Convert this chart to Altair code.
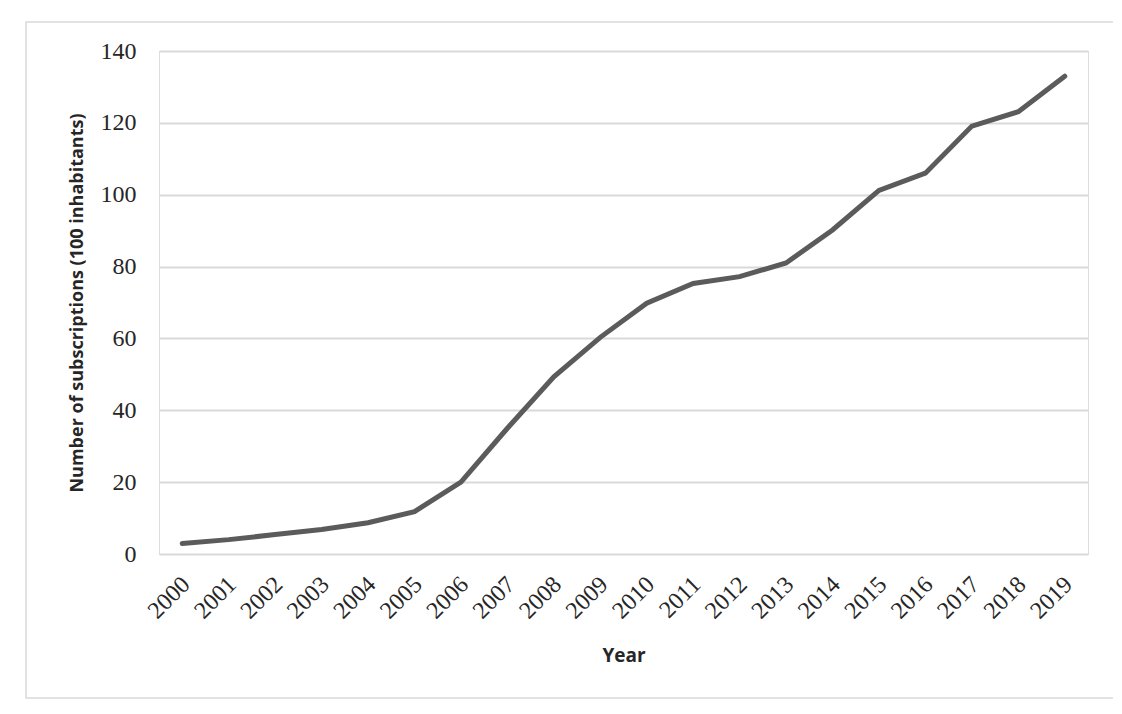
import altair as alt
import pandas as pd

years = [str(y) for y in range(2000, 2020)]
values = [2.9, 4.0, 5.4, 6.8, 8.7, 11.8, 20.0, 35.0, 49.3, 60.3, 69.8, 75.3, 77.2, 81.0,
          90.2, 101.2, 106.0, 119.1, 123.1, 133.0]

df = pd.DataFrame({"Year": years, "Value": values})

W, H = 929, 503

frame = alt.Chart(pd.DataFrame({"a": [0]})).mark_rect(
    fill=None, stroke="#d9d9d9", strokeWidth=1.5, clip=False
).encode(
    x=alt.value(-133), x2=alt.value(956), y=alt.value(-29), y2=alt.value(647)
)

line = alt.Chart(df).mark_line(color="#5b5b5b", strokeWidth=5, strokeCap="round").encode(
    x=alt.X("Year:N", sort=years, scale=alt.Scale(paddingOuter=0.5),
            axis=alt.Axis(title="Year", labelAngle=-45, labelFont="Liberation Serif",
                          labelFontSize=24, labelColor="#262626", labelPadding=18,
                          labelOffset=-5,
                          ticks=False, domain=False, grid=False,
                          titleFont="Open Sans", titleFontWeight="bold", titleFontSize=19,
                          titleColor="#262626", titlePadding=24)),
    y=alt.Y("Value:Q", scale=alt.Scale(domain=[0, 140], nice=False),
            axis=alt.Axis(title="Number of subscriptions (100 inhabitants)",
                          values=[0, 20, 40, 60, 80, 100, 120, 140],
                          labelFont="Liberation Serif", labelFontSize=24,
                          labelColor="#262626", labelPadding=23,
                          ticks=False, domain=False, grid=True,
                          gridColor="#d9d9d9", gridWidth=2,
                          titleFont="Open Sans", titleFontWeight="bold", titleFontSize=18,
                          titleColor="#262626", titlePadding=14)),
)

chart = alt.layer(frame, line).properties(
    width=W, height=H,
    autosize=alt.AutoSizeParams(type="none"),
    padding={"left": 151, "top": 43, "right": 25, "bottom": 150},
).configure_view(strokeWidth=0, stroke="transparent").configure(background="white")

chart.save("out.html", embed_options={"renderer": "svg", "actions": False})
